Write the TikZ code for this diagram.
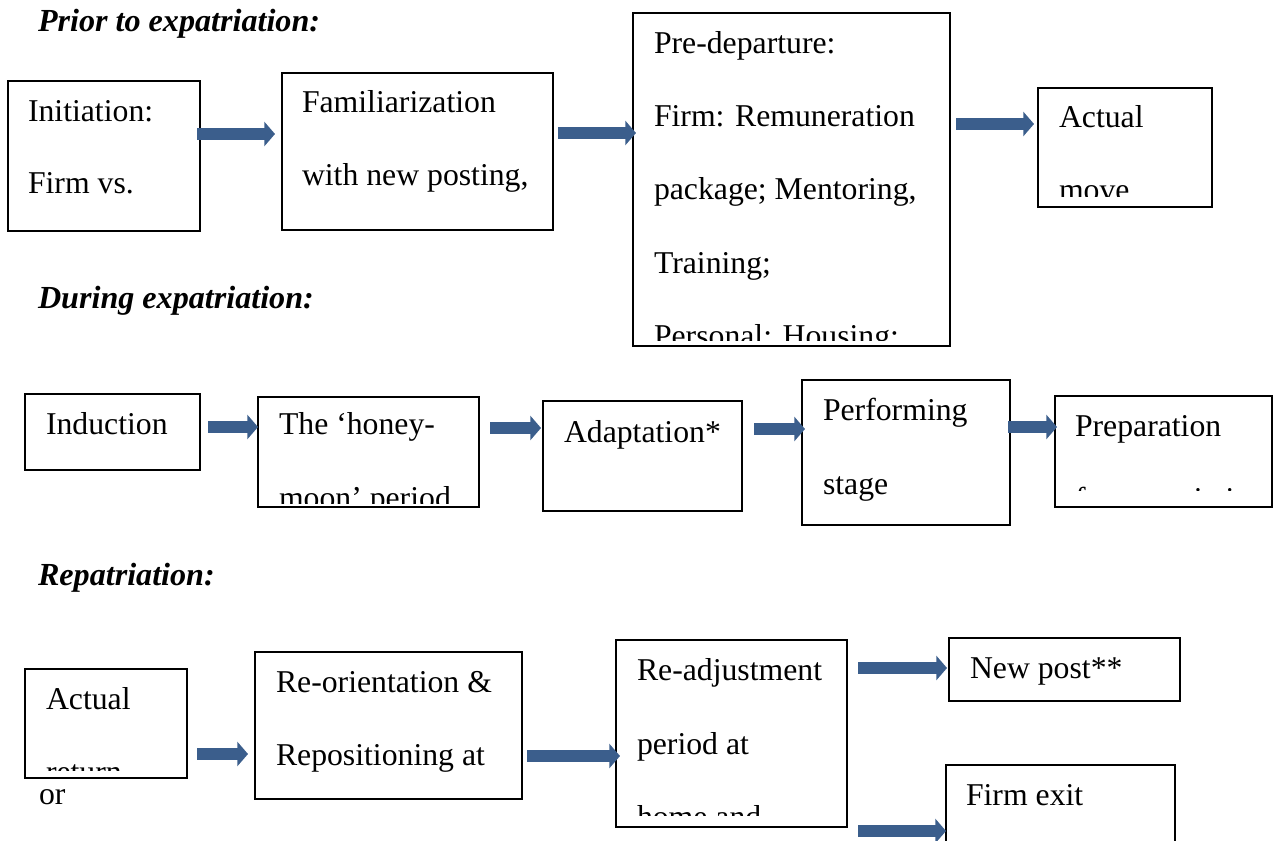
\documentclass[tikz,border=0pt]{standalone}
\usepackage{fontspec}
\setmainfont{Liberation Serif}
\usetikzlibrary{fit,arrows.meta}
\definecolor{arrowblue}{RGB}{59,94,140}
\newcommand\fs{\fontsize{23.8pt}{28pt}\selectfont}
\newcommand\hfs{\fontsize{24.1pt}{28pt}\selectfont}
\tikzset{
  box/.style={draw=black, line width=1.5pt, inner sep=0pt, outer sep=0pt, fill=white},
  txt/.style={anchor=base west, inner sep=0pt, outer sep=0pt, font=\fs},
  head/.style={txt, font=\hfs\bfseries\itshape},
  blk/.style={draw=arrowblue, line width=8.5pt, -{Triangle[width=18pt,length=8pt]}}
}
\newcommand\blkar[5]{\draw[blk, shorten <={(#4)*0.75pt}, shorten >={(#5)*0.75pt}] (#1.east|-0,#3) -- (#2.west|-0,#3);}
\begin{document}
\begin{tikzpicture}[x=0.75pt,y=-0.75pt]
\useasboundingbox (0,0) rectangle (1274,841);
\fill[white] (0,0) rectangle (1274,841);

% headings
\node[head] (h1) at (38,32) {Prior to expatriation:};
\node[head] (h2) at (38,309) {During expatriation:};
\node[head] (h3) at (38,585) {Repatriation:};

% ---- row 1 ----
\node[box, fit={(8,81) (200,231)}] (init) {};
\node[txt] (t1a) at (28,122) {Initiation:};
\node[txt] (t1b) at (28,194) {Firm vs.};

\node[box, fit={(282,73) (553,230)}] (fam) {};
\node[txt] (t2a) at (302,113) {Familiarization};
\node[txt] (t2b) at (302,186) {with new posting,};

\node[box, fit={(633,13) (950,346)}] (pre) {};
\begin{scope}
\clip (633,13) rectangle (950,341);
\node[txt] (t3a) at (654,54) {Pre-departure:};
\node[txt] (t3b) at (654,127) {Firm: Remuneration};
\node[txt] (t3c) at (654,200) {package; Mentoring,};
\node[txt] (t3d) at (654,274) {Training;};
\node[txt] (t3e) at (654,347) {Personal: Housing;};
\end{scope}

\node[box, fit={(1038,88) (1212,207)}] (move) {};
\begin{scope}
\clip (1038,88) rectangle (1212,197);
\node[txt] (t4a) at (1059,128) {Actual};
\node[txt] (t4b) at (1059,201) {move};
\end{scope}

\blkar{init}{fam}{134}{-3}{7}
\blkar{fam}{pre}{133}{5}{-3}
\blkar{pre}{move}{124}{6}{4}

% ---- row 2 ----
\node[box, fit={(25,394) (200,470)}] (ind) {};
\node[txt] (t5a) at (46,434) {Induction};

\node[box, fit={(258,397) (479,507)}] (honey) {};
\begin{scope}
\clip (258,397) rectangle (479,503);
\node[txt] (t6a) at (279,435) {The ‘honey-};
\node[txt] (t6b) at (279,508) {moon’ period};
\end{scope}

\node[box, fit={(543,401) (742,511)}] (adapt) {};
\node[txt] (t7a) at (564,442) {Adaptation*};

\node[box, fit={(802,380) (1010,525)}] (perf) {};
\node[txt] (t8a) at (823,421) {Performing};
\node[txt] (t8b) at (823,494) {stage};

\node[box, fit={(1055,396) (1272,507)}] (prep) {};
\begin{scope}
\clip (1055,396) rectangle (1272,490);
\node[txt] (t9a) at (1075,436) {Preparation};
\node[txt] (t9b) at (1075,509) {for repatriation};
\end{scope}

\blkar{ind}{honey}{427}{8}{0}
\blkar{honey}{adapt}{428}{11}{2}
\blkar{adapt}{perf}{429}{12}{-3}
\blkar{perf}{prep}{427}{-2}{-2}

% ---- row 3 ----
\node[box, fit={(25,669) (187,778)}] (ret) {};
\begin{scope}
\clip (25,669) rectangle (187,770);
\node[txt] (t10a) at (46,709) {Actual};
\node[txt] (t10b) at (46,782) {return};
\end{scope}
\node[txt] (tor) at (39,804) {or};

\node[box, fit={(255,652) (522,799)}] (reor) {};
\node[txt] (t11a) at (276,692) {Re-orientation \&};
\node[txt] (t11b) at (276,765) {Repositioning at};

\node[box, fit={(616,640) (847,827)}] (readj) {};
\begin{scope}
\clip (616,640) rectangle (847,815);
\node[txt] (t12a) at (637,680) {Re-adjustment};
\node[txt] (t12b) at (637,754) {period at};
\node[txt] (t12c) at (637,827) {home and};
\end{scope}

\node[box, fit={(949,638) (1180,701)}] (newpost) {};
\node[txt] (t13a) at (970,678) {New post**};

\node[box, fit={(946,765) (1175,880)}] (exit) {};
\node[txt] (t14a) at (966,805) {Firm exit};

\blkar{ret}{reor}{754}{10}{7}
\blkar{reor}{readj}{756}{5}{-4}
\blkar{readj}{newpost}{668}{11}{2}
\blkar{readj}{exit}{831}{11}{0}
\end{tikzpicture}
\end{document}
